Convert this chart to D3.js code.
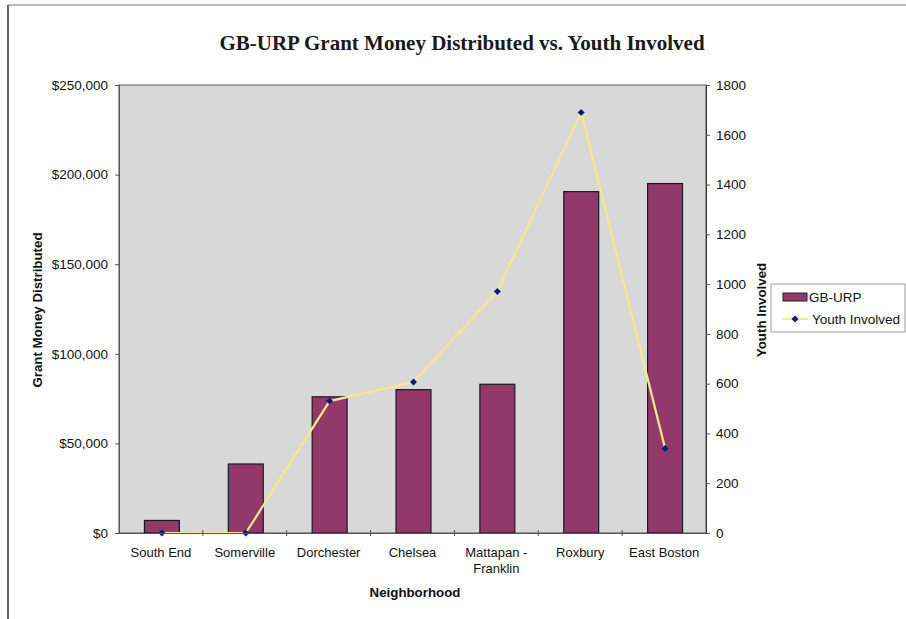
<!DOCTYPE html>
<html>
<head>
<meta charset="utf-8">
<script src="https://cdn.jsdelivr.net/npm/d3@7"></script>
<style>
  html, body { margin: 0; padding: 0; background: #ffffff; }
  svg { display: block; }
</style>
</head>
<body>
<div id="chart"></div>
<script>
// ---- data ----
const categories = ["South End", "Somerville", "Dorchester", "Chelsea", "Mattapan - Franklin", "Roxbury", "East Boston"];
const grantMoney = [7000, 38500, 76000, 80000, 83000, 190500, 195000];
const youthInvolved = [0, 0, 530, 607, 970, 1690, 340];
const leftTicks = [0, 50000, 100000, 150000, 200000, 250000];
const rightTicks = [0, 200, 400, 600, 800, 1000, 1200, 1400, 1600, 1800];
const titleText = "GB-URP Grant Money Distributed vs. Youth Involved";
const leftAxisTitle = "Grant Money Distributed";
const rightAxisTitle = "Youth Involved";
const xAxisTitle = "Neighborhood";
const legendLabels = ["GB-URP", "Youth Involved"];

// ---- layout ----
const W = 906, H = 619;
const plot = { left: 119, right: 706, top: 85, bottom: 533 };
const barColor = "#93386b";
const lineColor = "#f5e98c";
const markerColor = "#0a1a7a";
const sans = "'Liberation Sans', Arial, sans-serif";
const tickFont = 13.5;

const svg = d3.select("#chart").append("svg").attr("width", W).attr("height", H);

// frame lines (partial border as in the scan)
svg.append("line").attr("x1", 8).attr("y1", 5).attr("x2", 8).attr("y2", H).attr("stroke", "#333").attr("stroke-width", 1.5);
svg.append("line").attr("x1", 8).attr("y1", 5).attr("x2", W).attr("y2", 5).attr("stroke", "#777").attr("stroke-width", 1.2);

const x = d3.scaleBand().domain(categories).range([plot.left, plot.right]).padding(0);
const yL = d3.scaleLinear().domain([0, 250000]).range([plot.bottom, plot.top]);
const yR = d3.scaleLinear().domain([0, 1800]).range([plot.bottom, plot.top]);

// plot background
svg.append("rect")
  .attr("x", plot.left).attr("y", plot.top)
  .attr("width", plot.right - plot.left).attr("height", plot.bottom - plot.top)
  .attr("fill", "#d8d8d8").attr("stroke", "#555").attr("stroke-width", 1);

// bars
const barW = x.bandwidth() / 2.4;
svg.append("g").selectAll("rect").data(categories).join("rect")
  .attr("x", (d) => x(d) + x.bandwidth() / 2 - barW / 2 + 1)
  .attr("y", (d, i) => yL(grantMoney[i]))
  .attr("width", barW)
  .attr("height", (d, i) => yL(0) - yL(grantMoney[i]))
  .attr("fill", barColor).attr("stroke", "#1a1a1a").attr("stroke-width", 1.2);

// line
const line = d3.line()
  .x((d, i) => x(categories[i]) + x.bandwidth() / 2 + 1)
  .y((d) => yR(d));
svg.append("path").datum(youthInvolved)
  .attr("d", line).attr("fill", "none")
  .attr("stroke", lineColor).attr("stroke-width", 2.2);

// diamond markers (square rotated 45°)
const diamond = d3.symbol().type(d3.symbolSquare).size(24);
svg.append("g").selectAll("path").data(youthInvolved).join("path")
  .attr("d", diamond)
  .attr("transform", (d, i) => `translate(${x(categories[i]) + x.bandwidth() / 2 + 1},${yR(d)}) rotate(45)`)
  .attr("fill", markerColor);

// left axis
const axL = svg.append("g").attr("transform", `translate(${plot.left},0)`)
  .call(d3.axisLeft(yL).tickValues(leftTicks).tickSize(4).tickPadding(7)
    .tickFormat((d) => "$" + d3.format(",")(d)));
axL.select(".domain").attr("stroke", "#555");
axL.selectAll("text").attr("font-family", sans).attr("font-size", tickFont).attr("fill", "#111");
axL.selectAll(".tick line").attr("stroke", "#555");

// right axis
const axR = svg.append("g").attr("transform", `translate(${plot.right},0)`)
  .call(d3.axisRight(yR).tickValues(rightTicks).tickSize(4).tickPadding(6).tickFormat(d3.format("d")));
axR.select(".domain").attr("stroke", "#333");
axR.selectAll("text").attr("font-family", sans).attr("font-size", tickFont).attr("fill", "#111");
axR.selectAll(".tick line").attr("stroke", "#555");

// bottom axis
const axB = svg.append("g").attr("transform", `translate(0,${plot.bottom})`)
  .call(d3.axisBottom(x).tickSize(0).tickPadding(15));
axB.select(".domain").attr("stroke", "#555");
axB.selectAll(".tick text").each(function (d) {
  const t = d3.select(this);
  const parts = d.includes(" - ") ? [d.split(" - ")[0] + " -", d.split(" - ")[1]] : [d];
  t.text(null);
  parts.forEach((p, k) => t.append("tspan").attr("x", 0).attr("dy", k === 0 ? "0.71em" : "1.2em").text(p));
}).attr("font-family", sans).attr("font-size", 13).attr("fill", "#111");
// category separator ticks
svg.append("g").selectAll("line").data(categories.slice(1)).join("line")
  .attr("x1", (d) => x(d)).attr("x2", (d) => x(d))
  .attr("y1", plot.bottom - 3).attr("y2", plot.bottom + 3)
  .attr("stroke", "#555");

// title
svg.append("text").attr("x", 462).attr("y", 50).attr("text-anchor", "middle")
  .attr("font-family", "'Liberation Serif', 'Times New Roman', serif")
  .attr("font-weight", "bold").attr("font-size", 21).attr("fill", "#1a1a1a")
  .text(titleText);

// axis titles
svg.append("text").attr("transform", "translate(42,310) rotate(-90)").attr("text-anchor", "middle")
  .attr("font-family", sans).attr("font-weight", "bold").attr("font-size", 13.3).attr("fill", "#111")
  .text(leftAxisTitle);
svg.append("text").attr("transform", "translate(766,310) rotate(-90)").attr("text-anchor", "middle")
  .attr("font-family", sans).attr("font-weight", "bold").attr("font-size", 13.3).attr("fill", "#111")
  .text(rightAxisTitle);
svg.append("text").attr("x", 415).attr("y", 597).attr("text-anchor", "middle")
  .attr("font-family", sans).attr("font-weight", "bold").attr("font-size", 13.3).attr("fill", "#111")
  .text(xAxisTitle);

// legend
const lg = svg.append("g").attr("transform", "translate(771,284)");
lg.append("rect").attr("x", 0).attr("y", 0).attr("width", 134).attr("height", 48)
  .attr("fill", "#ffffff").attr("stroke", "#999").attr("stroke-width", 1);
lg.append("rect").attr("x", 12).attr("y", 9).attr("width", 24).attr("height", 8)
  .attr("fill", barColor).attr("stroke", "#222").attr("stroke-width", 1);
lg.append("text").attr("x", 38).attr("y", 18).attr("font-family", sans).attr("font-size", 13.5).attr("fill", "#111").text(legendLabels[0]);
lg.append("line").attr("x1", 11).attr("x2", 37).attr("y1", 35).attr("y2", 35).attr("stroke", lineColor).attr("stroke-width", 2);
lg.append("path").attr("d", diamond).attr("transform", "translate(24,35) rotate(45)").attr("fill", markerColor);
lg.append("text").attr("x", 41).attr("y", 40).attr("font-family", sans).attr("font-size", 13.5).attr("fill", "#111").text(legendLabels[1]);
</script>
</body>
</html>
